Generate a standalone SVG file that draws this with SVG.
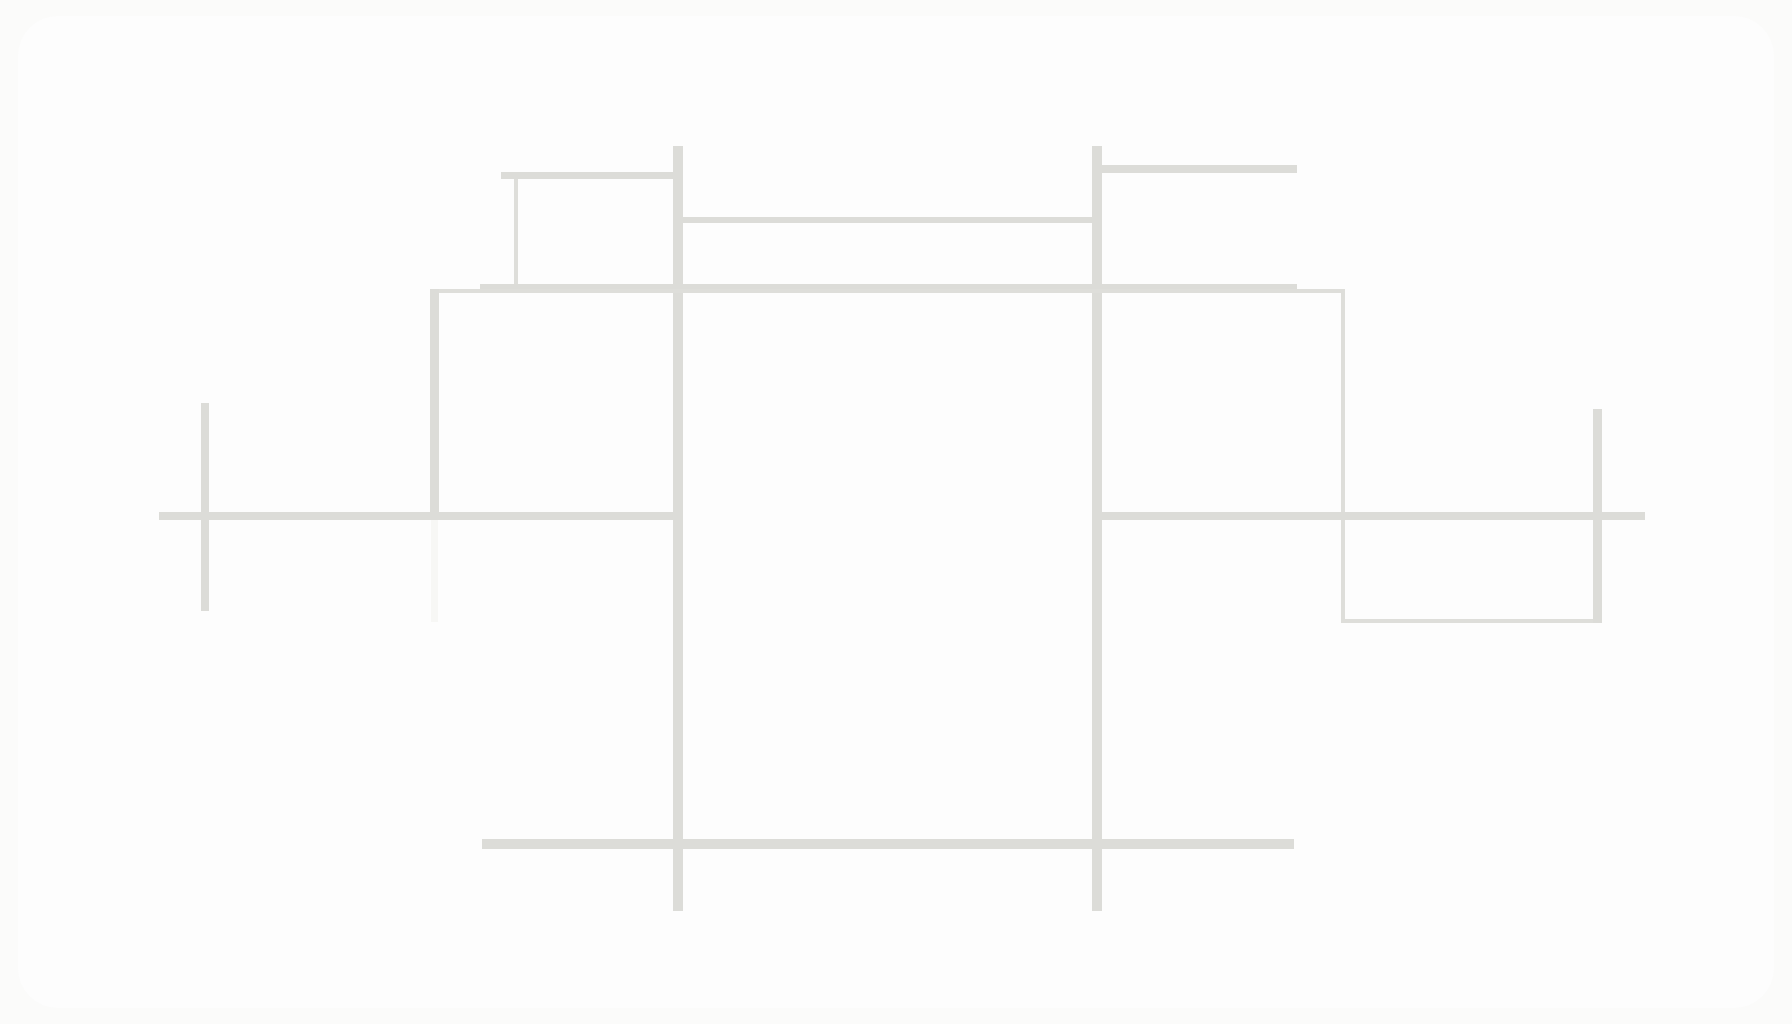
<svg xmlns="http://www.w3.org/2000/svg" width="1792" height="1024" viewBox="0 0 1792 1024">
<style>
.bar{fill:#dcdcd8}
.thin{fill:#dededa}
.fade{fill:#f7f7f5}
</style>
<rect x="0" y="0" width="1792" height="1024" fill="#fbfbfa"/>
<rect x="18" y="16" width="1756" height="992" rx="40" fill="#fdfdfd"/>
<g id="frame">
  <rect id="main-left" class="bar" x="673" y="146" width="10" height="765"/>
  <rect id="main-right" class="bar" x="1092" y="146" width="10" height="765"/>
</g>
<g id="top">
  <rect class="bar" x="501" y="172" width="172" height="7"/>
  <rect class="thin" x="514" y="179" width="4" height="106"/>
  <rect class="bar" x="683" y="217" width="409" height="6"/>
  <rect class="bar" x="1102" y="165" width="195" height="8"/>
  <rect class="bar" x="480" y="284" width="817" height="9"/>
</g>
<g id="box">
  <rect class="thin" x="430" y="289" width="915" height="4"/>
  <rect class="bar" x="430" y="289" width="9" height="223"/>
  <rect class="fade" x="431" y="520" width="7" height="102"/>
  <rect class="thin" x="1341" y="289" width="4" height="334"/>
  <rect class="thin" x="1341" y="619" width="261" height="4"/>
</g>
<g id="middle">
  <rect class="bar" x="159" y="512" width="514" height="8"/>
  <rect class="bar" x="1102" y="512" width="543" height="8"/>
  <rect class="bar" x="201" y="403" width="8" height="208"/>
  <rect class="bar" x="1593" y="409" width="9" height="214"/>
</g>
<g id="bottom">
  <rect class="bar" x="482" y="839" width="812" height="10"/>
</g>
</svg>
